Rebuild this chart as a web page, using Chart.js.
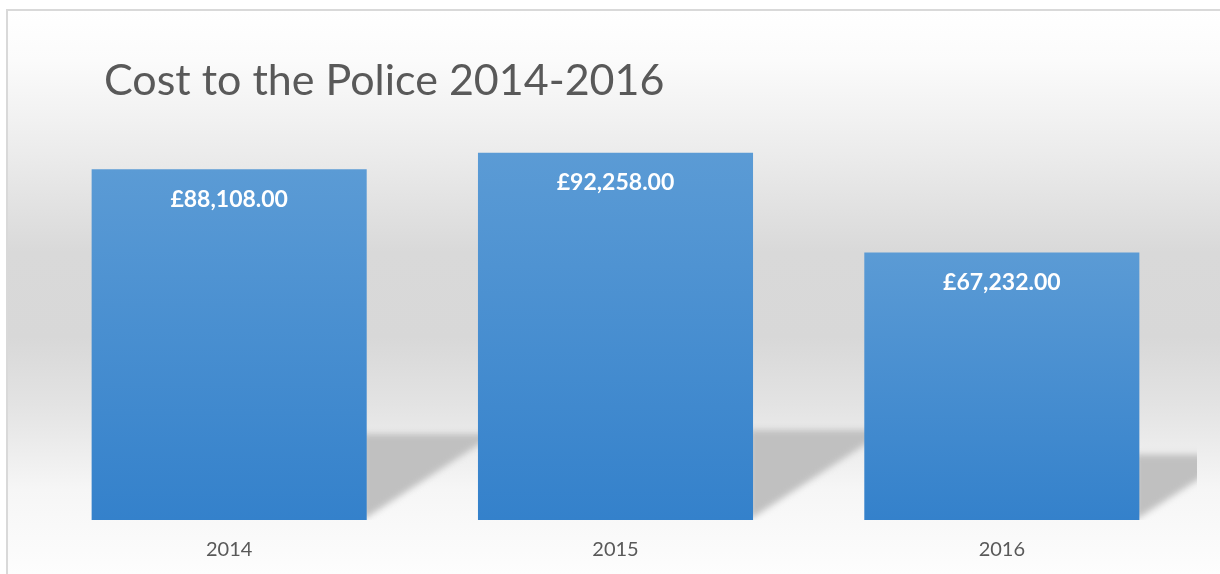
<!DOCTYPE html>
<html>
<head>
<meta charset="utf-8">
<script src="https://cdn.jsdelivr.net/npm/chart.js@4.4.1/dist/chart.umd.min.js"></script>
<style>
  html, body { margin: 0; padding: 0; background: #fff; }
  #wrap { width: 1220px; height: 574px; }
</style>
</head>
<body>
<div id="wrap"><canvas id="costChart"></canvas></div>
<script>
// chart data
const years = ['2014', '2015', '2016'];
const costs = [88108, 92258, 67232];
const chartTitle = 'Cost to the Police 2014-2016';

const poundFormat = new Intl.NumberFormat('en-GB', { style: 'currency', currency: 'GBP', minimumFractionDigits: 2 });

// grey background band + frame
const backgroundPlugin = {
    id: 'background',
    beforeDraw(chart) {
        const ctx = chart.ctx;
        const h = chart.height;
        const g = ctx.createLinearGradient(0, 10, 0, h);
        g.addColorStop(0, '#ffffff');
        g.addColorStop(0.09, '#fbfbfb');
        g.addColorStop(0.25, '#ececec');
        g.addColorStop(0.43, '#d9d9d9');
        g.addColorStop(0.58, '#d8d8d8');
        g.addColorStop(0.70, '#e3e3e3');
        g.addColorStop(0.78, '#ededed');
        g.addColorStop(0.85, '#f6f6f6');
        g.addColorStop(1, '#fdfdfd');
        ctx.save();
        ctx.fillStyle = '#ffffff';
        ctx.fillRect(0, 0, chart.width, h);
        ctx.fillStyle = g;
        ctx.fillRect(7, 10, chart.width - 7, h - 10);
        ctx.strokeStyle = '#d9d9d9';
        ctx.lineWidth = 2;
        ctx.strokeRect(7, 10, chart.width + 10, h + 10);
        ctx.restore();

        // title
        ctx.save();
        ctx.font = '400 43px Lato';
        ctx.fillStyle = '#595959';
        ctx.textBaseline = 'alphabetic';
        ctx.fillText(chartTitle, 104, 95);
        ctx.restore();
    }
};

// soft shadow behind each bar
const shadowPlugin = {
    id: 'barShadow',
    beforeDatasetsDraw(chart) {
        const ctx = chart.ctx;
        const area = chart.chartArea;
        const meta = chart.getDatasetMeta(0);
        ctx.save();
        ctx.beginPath();
        ctx.rect(area.left, area.top, area.right - area.left + 2, area.bottom - area.top);
        ctx.clip();
        ctx.filter = 'blur(3px)';
        ctx.fillStyle = '#c0c0c0';
        meta.data.forEach(bar => {
            const right = bar.x + bar.width / 2;
            const sh = (bar.base - bar.y) * 0.245;
            const top = bar.base - sh;
            const len = sh / 0.67;
            ctx.beginPath();
            ctx.moveTo(right - 4, bar.base);
            ctx.lineTo(right - 4, top);
            ctx.lineTo(right + len, top);
            ctx.closePath();
            ctx.fill();
        });
        ctx.restore();
    }
};

// value labels inside bars
const labelPlugin = {
    id: 'barLabels',
    afterDatasetsDraw(chart) {
        const ctx = chart.ctx;
        const meta = chart.getDatasetMeta(0);
        ctx.save();
        ctx.font = 'bold 23px Lato';
        ctx.fillStyle = '#ffffff';
        ctx.textAlign = 'center';
        ctx.textBaseline = 'middle';
        meta.data.forEach((bar, i) => {
            ctx.fillText(poundFormat.format(costs[i]), bar.x, bar.y + 30);
        });
        ctx.restore();
    }
};

function barGradient(context) {
    const chart = context.chart;
    if (!chart.chartArea) return '#4a90d2';
    const y = chart.scales.y.getPixelForValue(context.parsed.y);
    const base = chart.scales.y.getPixelForValue(0);
    const g = chart.ctx.createLinearGradient(0, y, 0, base);
    g.addColorStop(0, '#5b9bd5');
    g.addColorStop(1, '#3481cb');
    return g;
}

new Chart(document.getElementById('costChart'), {
    type: 'bar',
    data: {
        labels: years,
        datasets: [{
            data: costs,
            backgroundColor: barGradient,
            borderWidth: 0,
            barPercentage: 0.712,
            categoryPercentage: 1
        }]
    },
    options: {
        responsive: true,
        maintainAspectRatio: false,
        animation: false,
        layout: { padding: { top: 122, left: 36, right: 25, bottom: 12 } },
        plugins: {
            legend: { display: false },
            tooltip: { enabled: false }
        },
        scales: {
            x: {
                grid: { display: false, drawTicks: false },
                border: { display: false },
                ticks: { color: '#595959', font: { family: 'Lato', size: 20 }, padding: 18 },
                afterFit(axis) { axis.height = 42; }
            },
            y: {
                display: false,
                min: 0,
                max: 100000
            }
        }
    },
    plugins: [backgroundPlugin, shadowPlugin, labelPlugin]
});
</script>
</body>
</html>
